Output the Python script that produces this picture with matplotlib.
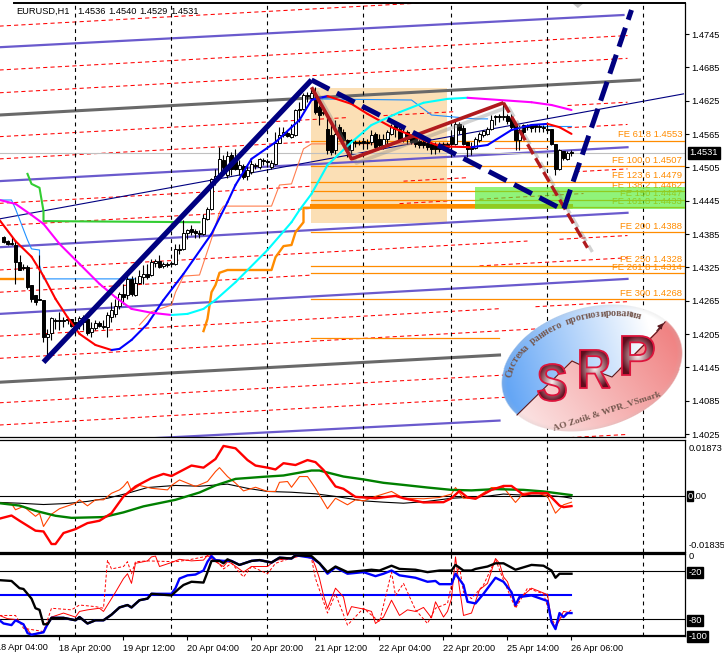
import numpy as np
import matplotlib
matplotlib.use('Agg')
from matplotlib import pyplot as plt
from matplotlib import patheffects as pe
from matplotlib.font_manager import FontProperties
from matplotlib.patches import PathPatch, Rectangle
from matplotlib.textpath import TextPath
from matplotlib.transforms import Affine2D, blended_transform_factory

plt.rcParams['font.family'] = 'Liberation Sans'

# candles, in 1/10000 of a price point, one per bar from bar 0
opens = [14381,14374,14370,14367,14336,14327,14327,14295,14277,14269,14268,14201,14208,14232,14232,14232,14233,14233,14228,14224,
         14237,14233,14210,14217,14226,14221,14219,14237,14242,14257,14278,14277,14305,14277,14298,14309,14314,14313,14334,14338,
         14329,14332,14332,14332,14359,14359,14388,14395,14392,14388,14386,14413,14431,14484,14491,14520,14493,14529,14518,14503,
         14509,14491,14498,14511,14507,14520,14518,14507,14512,14550,14565,14568,14561,14565,14611,14611,14637,14631,14629,14615,
         14606,14575,14565,14538,14579,14570,14556,14538,14552,14552,14554,14552,14552,14566,14557,14547,14557,14566,14583,14575,
         14556,14570,14561,14561,14554,14552,14550,14548,14547,14548,14548,14548,14561,14548,14584,14577,14552,14543,14541,14556,
         14565,14566,14575,14599,14599,14597,14599,14595,14583,14556,14583,14581,14583,14583,14581,14579,14575,14575,14548,14503,
         14536,14521,14534]
highs = [14383,14376,14381,14376,14349,14332,14331,14295,14277,14349,14268,14215,14237,14235,14246,14237,14235,14233,14230,14239,
         14241,14233,14228,14232,14230,14232,14246,14264,14269,14282,14296,14314,14311,14309,14322,14331,14332,14341,14341,14349,
         14336,14336,14338,14368,14368,14412,14395,14403,14395,14394,14422,14435,14487,14503,14543,14529,14536,14534,14539,14520,
         14512,14511,14520,14514,14523,14523,14521,14520,14570,14579,14579,14572,14584,14611,14624,14640,14642,14647,14651,14619,
         14615,14601,14583,14592,14584,14575,14557,14557,14556,14556,14556,14557,14574,14570,14566,14566,14574,14584,14583,14583,
         14575,14574,14566,14566,14557,14556,14556,14552,14552,14552,14552,14552,14570,14593,14588,14583,14552,14552,14561,14570,
         14574,14579,14601,14601,14602,14624,14602,14602,14584,14583,14584,14584,14584,14584,14584,14583,14583,14575,14548,14539,
         14536,14536,14538]
lows = [14370,14367,14367,14296,14322,14322,14287,14264,14259,14268,14192,14169,14196,14215,14214,14219,14224,14219,14206,14215,
        14214,14205,14201,14214,14219,14215,14201,14228,14237,14251,14260,14269,14275,14275,14296,14296,14305,14311,14327,14325,
        14325,14327,14327,14331,14350,14358,14377,14385,14379,14379,14385,14412,14430,14475,14485,14502,14487,14493,14502,14493,
        14485,14484,14494,14503,14503,14511,14507,14503,14511,14550,14561,14561,14559,14563,14588,14610,14624,14629,14602,14583,
        14601,14530,14529,14530,14557,14548,14525,14530,14543,14547,14541,14539,14547,14539,14539,14539,14547,14565,14561,14552,
        14552,14548,14548,14543,14541,14541,14538,14530,14530,14534,14538,14538,14534,14547,14566,14547,14525,14529,14539,14552,
        14561,14565,14574,14583,14588,14592,14584,14575,14538,14538,14561,14574,14570,14570,14570,14570,14570,14547,14493,14502,
        14520,14520,14527]
closes = [14372,14368,14368,14336,14322,14325,14291,14269,14264,14268,14201,14206,14235,14230,14230,14230,14232,14221,14219,14235,
          14228,14208,14217,14226,14221,14219,14241,14250,14257,14278,14273,14305,14278,14298,14311,14314,14309,14336,14338,14327,
          14332,14331,14334,14359,14358,14388,14394,14390,14388,14386,14415,14431,14485,14491,14521,14507,14527,14503,14503,14511,
          14489,14502,14512,14509,14521,14518,14516,14514,14550,14565,14570,14563,14566,14610,14610,14637,14635,14640,14606,14601,
          14604,14538,14534,14566,14561,14556,14538,14556,14550,14550,14550,14550,14565,14543,14547,14557,14570,14579,14575,14556,
          14570,14557,14552,14548,14547,14547,14543,14539,14539,14539,14543,14543,14548,14584,14574,14548,14539,14539,14557,14566,
          14572,14575,14592,14597,14597,14599,14590,14579,14556,14574,14570,14579,14577,14579,14579,14577,14574,14548,14503,14538,
          14523,14532,14533]

# slow average, blue while rising and red while falling
ma1_bars = [-1,3,7,10,13,16,19,23,27,29,32,36,40,45,52,56,58,62,68,72,74,77,81,87,91,97,103,109,112,117,121,127,132,136,139,142]
ma1_vals = [1.4412,1.4374,1.4346,1.4311,1.4270,1.4237,1.4207,1.4187,1.4178,1.4180,1.4196,1.4225,1.4268,1.4315,1.4387,1.4444,1.4475,1.4522,
            1.4552,1.4579,1.4592,1.4628,1.4635,1.4621,1.4603,1.4579,1.4561,1.4545,1.4544,1.4543,1.4547,1.4574,1.4583,1.4585,1.4579,1.4567]
# slower average, cyan while rising and magenta while falling
ma2_bars = [-1,3,7,10,14,19,24,28,32,37,42,46,50,53,58,66,72,74,77,81,87,92,99,105,111,116,124,132,137,142]
ma2_vals = [1.4448,1.4441,1.4421,1.4405,1.4369,1.4333,1.4297,1.4273,1.4252,1.4245,1.4241,1.4243,1.4252,1.4268,1.4300,1.4358,1.4408,1.4430,
            1.4459,1.4511,1.4552,1.4583,1.4606,1.4623,1.4630,1.4632,1.4628,1.4624,1.4619,1.4610]
orange_bars = [50,51,52,53,54,56,67,68,70,72,73,75,75,142]
orange_vals = [1.4212,1.4234,1.4282,1.4295,1.4317,1.4322,1.4322,1.4345,1.4365,1.4367,1.4390,1.4408,1.4434,1.4435]
green_bars = [6,7,9,10,10,49]
green_vals = [1.4495,1.4477,1.4470,1.4428,1.4410,1.4408]
coral_bars = [34,37,42,43,45,49,52,54,55,67,69,72,75,77,112]
coral_vals = [1.4223,1.4247,1.4259,1.4282,1.4311,1.4313,1.4378,1.4426,1.4437,1.4437,1.4475,1.4477,1.4540,1.4549,1.4549]
sky_runs = [([-1,2,3,6,7,9,9,10,33], [1.4448,1.4448,1.4432,1.4376,1.4360,1.4358,1.4331,1.4306,1.4306]),
            ([77,102,107,118,121], [1.4630,1.4628,1.4601,1.4594,1.4594]),
            ([134,142], [1.4581,1.4581])]

# channel lines: start bar, start price, end bar, end price
purple_lines = [(-1,1.4723,155,1.4781), (-1,1.4482,156,1.4543), (-1,1.4363,156,1.4425), (-1,1.4243,156,1.4306), (34,1.4018,124,1.4051)]
gray_lines = [(-1,1.4601,159,1.4664), (-1,1.4120,124,1.4169)]
navy_line = (-1,1.4414,170,1.4639)
red_dash_starts = [1.4804,1.4761,1.4682,1.4641,1.4562,1.4522,1.4442,1.4402,1.4322,1.4282,1.4203,1.4163,1.4083,1.4043,1.3964]
red_dash_rise = 0.0062
# stretches of bars where a dashed line is not drawn, by start price
red_dash_gaps = {1.4562: [(86, 95), (113, 141)], 1.4522: [(77, 141)], 1.4442: [(77, 100), (116, 143)],
                 1.4402: [(77, 99), (111, 119), (145, 157)], 1.4322: [(131, 139)], 1.4282: [(77, 119)],
                 1.4203: [(124, 133)], 1.3964: [(124, 138)]}

# Fibonacci levels
fe_names = ['FE 61.8 1.4553','FE 100.0 1.4507','FE 123.6 1.4479','FE 138.2 1.4462','FE 150 1.4447','FE 161.8 1.4433',
            'FE 200 1.4388','FE 250 1.4328','FE 261.8 1.4314','FE 300 1.4268']
fe_levels = [1.4553,1.4507,1.4479,1.4462,1.4447,1.4433,1.4388,1.4328,1.4314,1.4268]
fe_extra = [1.4437,1.4198]
last_price = 1.4531

# hand drawn waves
wave_blue_bars, wave_blue_vals = [10,77], [1.4156,1.4664]
wave_blue_dash_bars, wave_blue_dash_vals = [77,140,157], [1.4664,1.4430,1.4790]
wave_red_bars, wave_red_vals = [77,87,125], [1.4651,1.4522,1.4623]
wave_red_dash_bars, wave_red_dash_vals = [125,146], [1.4623,1.4362]

# upper sub window
sub_red_bars = [-1,2,4,8,10,12,13,15,18,21,24,27,30,33,37,40,42,47,50,53,55,58,61,63,66,68,70,73,76,78,80,83,85,88,90,93,98,100,105,110,112,114,
                116,118,122,125,127,130,132,136,139,140,142]
sub_red_vals = [-.0086,-.0074,-.0094,-.0132,-.0135,-.0183,-.0183,-.0141,-.0126,-.0103,-.0094,-.0065,-.0001,.0037,.0069,.0085,.0077,.0117,.0109,
                .0142,.0192,.0183,.0138,.0117,.0109,.0102,.0126,.0119,.0138,.0130,.0100,.0037,.0028,-.0003,-.0005,-.0008,.0001,-.0008,-.0024,-.0023,
                -.0008,.0020,-.0005,-.0010,.0024,.0039,.0039,.0005,.0011,.0011,-.0036,-.0042,-.0038]
sub_green_bars = [-1,4,8,13,17,25,30,35,43,49,53,58,65,70,77,79,85,90,95,100,106,112,117,123,130,135,140,142]
sub_green_vals = [-.0027,-.0036,-.0056,-.0075,-.0083,-.0080,-.0062,-.0039,-.0014,.0014,.0041,.0066,.0074,.0079,.0098,.0098,.0075,.0064,.0051,.0043,
                  .0033,.0024,.0022,.0027,.0024,.0018,.0008,.0004]
sub_black_bars = [-1,4,10,16,21,26,31,36,43,49,56,61,66,72,78,83,90,95,100,106,112,117,121,125,131,136,140,142]
sub_black_vals = [-.0024,-.0027,-.0032,-.0028,-.0020,-.0008,.0011,.0033,.0041,.0038,.0046,.0030,.0018,.0015,.0009,-.0001,-.0018,-.0023,-.0027,-.0020,
                  -.0008,-.0004,.0000,.0008,.0003,.0003,-.0003,-.0008]
sub_orange_bars = [-1,2,3,5,8,9,10,12,14,18,19,21,23,25,27,29,30,31,32,34,37,41,42,44,48,51,53,54,56,58,60,63,66,68,69,71,72,74,76,78,81,83,86,88,90,
                   93,97,100,105,109,112,113,115,118,122,125,128,130,133,136,138,140,142]
sub_orange_vals = [-.0027,-.0029,-.0052,-.0039,-.0077,-.0065,-.0116,-.0069,-.0048,-.0027,-.0014,-.0037,-.0014,-.0014,.0011,.0024,.0037,.0056,.0020,.0041,
                   .0030,.0024,.0041,.0062,.0037,.0056,.0094,.0109,.0075,.0050,.0020,.0034,.0018,.0018,.0053,.0056,.0034,.0075,.0075,.0030,-.0048,-.0008,
                   -.0033,-.0014,-.0018,-.0001,.0018,-.0008,-.0010,-.0005,.0008,.0033,-.0008,-.0008,.0033,.0033,-.0024,.0011,.0015,-.0001,-.0065,-.0033,-.0023]

# lower sub window
wpr_black_bars = [-1,2,4,5,7,8,9,10,11,12,15,18,19,21,23,25,27,29,31,32,34,36,37,42,44,45,47,50,51,52,54,55,56,59,62,64,67,69,72,73,77,79,81,83,86,90,
                  92,94,97,99,103,106,109,112,113,115,117,118,121,123,125,128,132,135,137,138,139,142]
wpr_black_vals = [-31,-32,-41,-42,-54,-66,-68,-86,-86,-78,-78,-81,-77,-85,-81,-81,-74,-65,-62,-65,-56,-54,-48,-50,-41,-37,-33,-34,-21,-7,-7,-10,-5,-12,-7,-6,-9,
                  -3,-4,0,-1,-10,-21,-14,-21,-19,-18,-19,-13,-17,-18,-21,-19,-19,-12,-19,-19,-17,-14,-10,-10,-18,-12,-13,-19,-28,-23,-23]
wpr_blue_bars = [-1,0,2,3,5,6,7,10,11,12,15,18,19,21,23,25,27,29,31,32,34,36,37,42,43,44,46,48,50,51,52,53,55,57,59,62,64,67,69,72,73,77,79,81,83,86,90,
                 93,95,97,99,103,106,108,109,112,113,115,116,118,120,123,125,127,128,129,132,136,137,138,139,140,141,142]
wpr_blue_vals = [-81,-85,-87,-81,-86,-97,-99,-96,-86,-78,-78,-81,-77,-85,-81,-81,-74,-65,-62,-65,-56,-54,-48,-48,-41,-29,-25,-24,-19,-8,-1,-6,-7,-7,-12,-7,-6,-9,-3,
                 -4,0,-3,-10,-23,-15,-23,-21,-26,-23,-19,-25,-28,-33,-32,-36,-36,-23,-37,-58,-60,-48,-28,-33,-46,-62,-52,-50,-57,-83,-92,-72,-77,-72,-72]
wpr_red_bars = [-1,1,3,5,7,10,12,15,18,19,21,24,25,28,30,31,32,33,36,37,38,39,42,44,47,50,51,53,55,56,57,60,62,66,68,72,74,77,78,79,80,81,83,85,86,87,90,
                92,93,95,97,99,101,103,105,107,108,110,111,112,113,114,115,117,119,121,123,124,125,126,128,129,132,136,137,138,140,142]
wpr_red_vals = [-75,-79,-80,-86,-99,-95,-77,-72,-77,-70,-68,-66,-70,-46,-29,-23,-35,-10,-7,-2,-1,-14,-9,-5,-7,-6,0,-8,-14,-8,-10,-21,-14,-14,-6,-4,-1,-2,-14,-29,-50,-66,
                -41,-52,-75,-64,-67,-70,-85,-77,-56,-75,-68,-70,-65,-78,-58,-77,-70,-54,-2,-41,-75,-72,-43,-35,-4,-10,-27,-33,-64,-54,-41,-49,-81,-91,-70,-72]
wpr_dash_bars = [-1,3,5,10,12,17,19,23,25,26,27,30,31,32,33,36,43,46,52,55,57,60,62,66,68,74,77,78,81,83,86,90,94,97,98,100,103,106,108,111,112,114,115,117,120,123,
                 125,128,131,135,137,138,140,142]
wpr_dash_vals = [-75,-75,-91,-95,-66,-68,-62,-64,-66,-6,-17,-14,-8,-23,-8,-7,-8,-6,0,-17,-10,-27,-14,-23,-10,0,-4,-29,-72,-48,-87,-66,-83,-21,-50,-35,-68,-85,-66,-60,
                 -37,-14,-46,-54,-37,-5,-31,-66,-41,-48,-79,-87,-75,-68]

week_lines = [18,42,66,90,112,136,160]
time_ticks = [14,30,46,62,78,94,110,126,142]
time_labels = ['18 Apr 20:00','19 Apr 12:00','20 Apr 04:00','20 Apr 20:00','21 Apr 12:00','22 Apr 04:00','22 Apr 20:00','25 Apr 14:00','26 Apr 06:00']
price_ticks = [1.4745,1.4685,1.4625,1.4565,1.4505,1.4445,1.4385,1.4325,1.4265,1.4205,1.4145,1.4085,1.4025]

W, H = 724, 654
RIGHT = 685

def pane(top, bottom):
    return fig.add_axes([0, 1 - bottom / H, RIGHT / W, (bottom - top) / H])

def shift(vals):
    # the traces were read about one pixel high
    return np.array(vals) - 0.00018

def colored(ax, bars, vals, up, down, lw):
    for i in range(len(bars) - 1):
        c = up if vals[i + 1] >= vals[i] else down
        ax.plot(bars[i:i + 2], vals[i:i + 2], color=c, lw=lw, solid_capstyle='round', zorder=6)

fig = plt.figure(figsize=(W / 100, H / 100), dpi=100)
ax = pane(3, 437)
ax2 = pane(439.5, 551.5)
ax3 = pane(554, 636)
xlim = (-0.875, 170.375)

for a in (ax, ax2, ax3):
    for s in a.spines.values():
        s.set_linewidth(0.9)
    a.spines['left'].set_visible(False)
    a.yaxis.tick_right()
    for b in week_lines:
        a.axvline(b, color='black', lw=0.8, ls=(0, (3.5, 3.5)), zorder=3)
    a.tick_params(axis='x', bottom=False, labelbottom=False)

# main window
ax.set_ylim(1.40196, 1.48008)
ax.set_yticks(price_ticks)
ax.set_yticklabels(['%.4f' % p for p in price_ticks])
ax.tick_params(axis='y', length=3, width=0.8, pad=1.5, labelsize=6.7)
ax.spines['top'].set_visible(False)
ax.plot([14 / RIGHT, 1], [1, 1], transform=ax.transAxes, color='black', lw=1.4, clip_on=False, zorder=12)

ax.add_patch(Rectangle((77, 1.4745 - (223 - 34) * 0.00018), 34, 135 * 0.00018, facecolor='#fbdfb5', edgecolor='none', zorder=1))

for start in red_dash_starts:
    edges = [-1]
    for g0, g1 in red_dash_gaps.get(start, []):
        edges += [g0, g1]
    edges.append(156)
    for x0, x1 in zip(edges[::2], edges[1::2]):
        y0 = start + red_dash_rise * (x0 + 1) / 157
        y1 = start + red_dash_rise * (x1 + 1) / 157
        ax.plot([x0, x1], shift([y0, y1]), color='red', lw=0.75, ls=(0, (4, 3)), zorder=2)
for x0, p0, x1, p1 in purple_lines:
    ax.plot([x0, x1], shift([p0, p1]), color='#6a5acd', lw=1.6, zorder=2)
for x0, p0, x1, p1 in gray_lines:
    ax.plot([x0, x1], shift([p0, p1]), color='#696969', lw=2.2, zorder=2)
ax.plot(navy_line[::2], shift(navy_line[1::2]), color='#000080', lw=0.8, zorder=2)
ax.axhline(last_price, color='#c0c0c0', lw=0.8, zorder=2)

for lvl, name in zip(fe_levels, fe_names):
    ax.plot([77, xlim[1]], [lvl, lvl], color='#ff8c00', lw=0.9, zorder=3)
    ax.annotate(name, xy=(682 / RIGHT, lvl), xycoords=('axes fraction', 'data'), xytext=(0, 4.2),
                textcoords='offset points', ha='right', va='center', fontsize=6.8, color='#ff8c00', zorder=3)
ax.plot([77, 124], [fe_extra[1], fe_extra[1]], color='#ff8c00', lw=0.9, zorder=3)
ax.plot([77, 142], [fe_extra[0], fe_extra[0]], color='#ff8c00', lw=2.2, zorder=3)

ax.plot(green_bars, shift(green_vals), color='#32cd32', lw=1.5, zorder=4)
ax.plot(coral_bars, shift(coral_vals), color='#ff7f50', lw=0.8, zorder=4)
ax.plot([123, 136], [1.4540, 1.4540], color='#ff7f50', lw=0.8, zorder=4)
for bars, vals in sky_runs:
    ax.plot(bars, shift(vals), color='#1e90ff', lw=0.8, zorder=4)
ax.plot(orange_bars, shift(orange_vals), color='#ff8c00', lw=1.7, zorder=4)
ax.plot([-1, 5], shift([1.4306, 1.4306]), color='#ff8c00', lw=1.7, zorder=4)

# candles
o = np.array(opens) / 1e4 - 0.00018
h = np.array(highs) / 1e4 - 0.00018
l = np.array(lows) / 1e4 - 0.00018
c = np.array(closes) / 1e4 - 0.00018
bars = np.arange(len(o))
ax.vlines(bars, l, h, color='black', lw=0.8, zorder=5)
ups = c >= o
ax.bar(bars[ups], (c - o)[ups], bottom=o[ups], width=0.6, facecolor='white', edgecolor='black', lw=0.7, zorder=5)
ax.bar(bars[~ups], (o - c)[~ups], bottom=c[~ups], width=0.6, facecolor='black', edgecolor='black', lw=0.7, zorder=5)

colored(ax, ma1_bars, shift(ma1_vals), '#0000ff', '#ff0000', 1.5)
colored(ax, ma2_bars, shift(ma2_vals), '#00ffff', '#ff00ff', 1.5)

shadow = [pe.SimpleLineShadow(offset=(3.5, -3), shadow_color='gray', alpha=0.35), pe.Normal()]
ax.plot(wave_red_bars, shift(wave_red_vals), color='#b01a1e', lw=2.6, zorder=8, path_effects=shadow, solid_capstyle='butt')
ax.plot(wave_red_dash_bars, shift(wave_red_dash_vals), color='#b01a1e', lw=2.4, ls=(0, (3.4, 1.4)), zorder=8,
        path_effects=shadow, dash_capstyle='butt')
ax.plot(wave_blue_bars, shift(wave_blue_vals), color='#000080', lw=3.8, zorder=9, solid_capstyle='butt')
ax.plot(wave_blue_dash_bars, shift(wave_blue_dash_vals), color='#000080', lw=3.6, ls=(0, (4, 1.7)), zorder=9, dash_capstyle='butt')

ax.add_patch(Rectangle((117.9, 1.4745 - (209 - 34) * 0.00018), 52.5, 22 * 0.00018, facecolor='#55ee33', alpha=0.65,
                       edgecolor='none', zorder=7))
ax.fill([142.1, 145.1, 143.6], [1.48008, 1.48008, 1.47918], color='#c4c4c4', lw=0, zorder=2)

for tx, label in zip([16.5, 77, 108, 139, 170], ['EURUSD,H1', '1.4536', '1.4540', '1.4529', '1.4531']):
    fig.text(tx / W, 1 - 11.7 / H, label, fontsize=6.7, va='center', color='black', zorder=20)

ax.text(704 / RIGHT, last_price, '%.4f' % last_price, transform=blended_transform_factory(ax.transAxes, ax.transData),
        color='white', fontsize=6.7, ha='center', va='center', clip_on=False, zorder=12,
        bbox=dict(facecolor='black', edgecolor='black', pad=1.2))

# upper sub window
ax2.set_ylim(-0.02116, 0.02166)
ax2.axhline(0, color='black', lw=0.8, zorder=2)
ax2.set_yticks([0.01873, -0.01835])
ax2.set_yticklabels(['0.01873', '-0.01835'])
ax2.tick_params(axis='y', length=0, pad=2.5, labelsize=6.7)
ax2.plot(sub_black_bars, sub_black_vals, color='black', lw=0.8, zorder=4)
ax2.plot(sub_orange_bars, sub_orange_vals, color='#ff4500', lw=0.8, zorder=4)
ax2.plot(sub_green_bars, sub_green_vals, color='#008000', lw=1.7, zorder=5)
ax2.plot(sub_red_bars, sub_red_vals, color='#ff0000', lw=1.7, zorder=6)
zero_tr = blended_transform_factory(ax2.transAxes, ax2.transData)
ax2.text(690 / RIGHT, 0, '0', transform=zero_tr, color='white', fontsize=6.7, ha='center', va='center',
         clip_on=False, bbox=dict(facecolor='black', edgecolor='black', pad=0.3))
ax2.text(693.5 / RIGHT, 0, '.00', transform=zero_tr, color='black', fontsize=6.7, ha='left', va='center', clip_on=False)

# lower sub window
ax3.set_ylim(-100.6, 1.6)
ax3.axhline(-20, color='black', lw=0.8, zorder=2)
ax3.axhline(-80, color='black', lw=0.8, zorder=2)
ax3.plot([-1, 142], [-50, -50], color='#0000ff', lw=1.5, zorder=2)
ax3.plot(wpr_dash_bars, wpr_dash_vals, color='red', lw=0.7, ls=(0, (3, 2)), zorder=3)
ax3.plot(wpr_red_bars, wpr_red_vals, color='red', lw=0.7, zorder=3)
ax3.plot(wpr_blue_bars, wpr_blue_vals, color='#0000ff', lw=1.7, zorder=4)
ax3.plot(wpr_black_bars, wpr_black_vals, color='black', lw=1.7, zorder=5)
ax3.spines['top'].set_linewidth(1.6)
ax3.spines['bottom'].set_linewidth(1.6)
ax3.set_yticks([0, -20, -80, -100])
ax3.set_yticklabels(['0', '-20', '-80', '-100'])
ax3.tick_params(axis='y', length=0, pad=2.5, labelsize=6.7)
for t, lab in zip(ax3.get_yticklabels(), ['0', '-20', '-80', '-100']):
    if lab != '0':
        t.set_color('white')
        t.set_bbox(dict(facecolor='black', edgecolor='black', pad=0.8))
ax3.set_xticks(time_ticks)
ax3.set_xticklabels(time_labels)
ax3.tick_params(axis='x', bottom=True, labelbottom=True, length=3, width=0.8, pad=2.5, labelsize=6.6)
for t in ax3.get_xticklabels():
    t.set_ha('left')
# the first time label starts left of the picture
ax3.annotate('18 Apr 04:00', xy=(-2, 0), xycoords=('data', 'axes fraction'), xytext=(0, -5.4), textcoords='offset points',
             ha='left', va='top', fontsize=6.6, annotation_clip=False)
for a in (ax, ax2, ax3):
    a.set_xlim(xlim)
ax.set_zorder(3)
ax2.set_zorder(2)
ax3.set_zorder(1)

# logo, drawn in its own pixel frame
lx0, lx1, ly0, ly1 = 498, 686, 302, 436
logo = fig.add_axes([lx0 / W, 1 - ly1 / H, (lx1 - lx0) / W, (ly1 - ly0) / H], zorder=30)
logo.axis('off')
logo.patch.set_alpha(0)
xs, ys = np.meshgrid(np.arange(lx0, lx1) + 0.5, np.arange(ly0, ly1) + 0.5)
cx, cy, ea, eb, tilt = 592, 368.5, 93, 60.4, np.radians(16)
u = (xs - cx) * np.cos(tilt) - (ys - cy) * np.sin(tilt)
v = -(xs - cx) * np.sin(tilt) - (ys - cy) * np.cos(tilt)
r = np.sqrt((u / ea) ** 2 + (v / eb) ** 2)
divide_x = [505, 517, 572, 587, 612, 657, 665, 690]
divide_y = [427, 415, 361, 368, 377, 332, 322, 312]
upper = ys < np.interp(xs, divide_x, divide_y)
t = np.clip(((xs - 505) + (415 - ys) * 0.3) / 170, 0, 1)[..., None]
blue = (1 - t) * np.array([90, 160, 245]) + t * np.array([255, 255, 255])
s = np.clip(((xs - 520) + (430 - ys) * 0.8) / 230, 0, 1)[..., None]
pink = (1 - s) * np.array([252, 232, 232]) + s * np.array([240, 130, 130])
rgb = np.where(upper[..., None], blue, pink) / 255
rim = np.clip((r - 0.93) / 0.07, 0, 1)[..., None]
rgb = rgb * (1 - 0.25 * rim) + 0.25 * rim * np.array([0.75, 0.75, 0.75])
alpha = np.clip((1 - r) * 60, 0, 1)[..., None]
logo.imshow(np.concatenate([rgb, alpha], axis=2), extent=(lx0, lx1, ly1, ly0), interpolation='nearest', aspect='auto', zorder=1)
logo.plot(divide_x[1:7], divide_y[1:7], color='#5a1a20', lw=0.8, zorder=2)
logo.annotate('', xy=(665, 321), xytext=(655, 333), arrowprops=dict(arrowstyle='-|>', color='#5a1a20', lw=0.8, mutation_scale=8), zorder=2)

letter_font = FontProperties(family='Liberation Sans', weight='bold')
for ch, box in zip('SRP', [(538, 566, 364, 401), (580, 610, 350, 388), (622, 654, 336, 375)]):
    tp = TextPath((0, 0), ch, size=50, prop=letter_font)
    ex = tp.get_extents()
    tr = (Affine2D().translate(-ex.x0, -ex.y0).scale((box[1] - box[0]) / ex.width, -(box[3] - box[2]) / ex.height)
          .translate(box[0], box[3]))
    path = tr.transform_path(tp)
    gx, gy = np.meshgrid(np.linspace(0, 1, 40), np.linspace(0, 1, 40))
    d = np.clip(np.sqrt((gx - 0.5) ** 2 + (gy - 0.5) ** 2) / 0.55, 0, 1)[..., None]
    fill = (1 - d) * np.array([250, 240, 240]) + d * np.array([95, 12, 28])
    im = logo.imshow(fill / 255, extent=(box[0], box[1], box[3], box[2]), aspect='auto', zorder=3, interpolation='bilinear')
    patch = PathPatch(path, facecolor='none', edgecolor='#dc143c', lw=1.3, zorder=4)
    logo.add_patch(patch)
    im.set_clip_path(patch)
logo.set_xlim(lx0, lx1)
logo.set_ylim(ly1, ly0)

serif = dict(family='Liberation Serif', weight='bold', color='#75584f', ha='center', va='center', zorder=5)
arc_text = 'Система раннего прогнозирования'
ts = np.radians(np.linspace(163, 44, 400))
au, av = 85 * np.cos(ts), 52 * np.sin(ts)
arc = np.concatenate([[0], np.cumsum(np.hypot(np.diff(au), np.diff(av)))])
for i, ch in enumerate(arc_text):
    a0 = np.radians(np.interp((i + 0.5) / len(arc_text) * arc[-1], arc, np.degrees(ts)))
    pu, pv = 85 * np.cos(a0), 52 * np.sin(a0)
    px = cx + pu * np.cos(tilt) - pv * np.sin(tilt)
    py = cy - pu * np.sin(tilt) - pv * np.cos(tilt)
    ang = np.degrees(np.arctan2(-52 * np.cos(a0), 85 * np.sin(a0))) + 16
    logo.text(px, py, ch, fontsize=7.2, rotation=ang, rotation_mode='anchor', **serif)
logo.text(607, 411, 'AO Zotik & WPR_VSmark', fontsize=6.8, rotation=18, rotation_mode='anchor', **serif)

fig.savefig('out.png', dpi=100)
